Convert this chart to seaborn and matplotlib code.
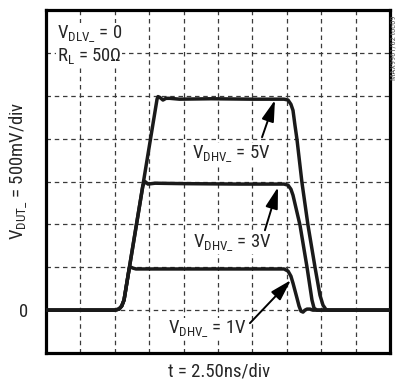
import matplotlib
matplotlib.use("Agg")
import matplotlib.pyplot as plt
from matplotlib import font_manager
import seaborn as sns
import pandas as pd

# Output waveforms for three high-level drive voltages (t in ns, V_DUT in volts)
t_5v = [0, 5.0, 5.3, 5.5, 5.67, 8.07, 8.14, 8.28, 8.5, 8.72, 9.0, 9.7, 12.0, 15.0,
        17.3, 17.59, 17.8, 17.95, 18.09, 18.24, 18.6, 19.04, 19.55, 19.91, 20.13,
        20.35, 20.57, 25.0]
v_5v = [0, 0, 0.012, 0.047, 0.117, 2.46, 2.49, 2.48, 2.45, 2.47, 2.47, 2.46, 2.465,
        2.46, 2.46, 2.45, 2.40, 2.33, 2.16, 1.99, 1.49, 0.99, 0.50, 0.175, 0.058,
        0.006, 0, 0]

t_3v = [0, 5.0, 5.3, 5.5, 5.67, 7.04, 7.19, 7.41, 7.92, 10.0, 14.0, 17.3, 17.59,
        17.8, 17.95, 18.46, 18.97, 19.33, 19.48, 19.69, 25.0]
v_3v = [0, 0, 0.012, 0.047, 0.117, 1.45, 1.50, 1.47, 1.48, 1.475, 1.47, 1.47,
        1.457, 1.41, 1.34, 0.99, 0.50, 0.117, 0.023, 0, 0]

t_1v = [0, 5.0, 5.3, 5.5, 5.67, 6.05, 6.18, 6.32, 6.54, 10.0, 14.0, 17.3, 17.59,
        17.8, 17.95, 18.24, 18.39, 18.53, 18.68, 18.82, 18.97, 19.18, 19.4, 25.0]
v_1v = [0, 0, 0.012, 0.047, 0.117, 0.49, 0.50, 0.49, 0.48, 0.48, 0.48, 0.48,
        0.455, 0.396, 0.315, 0.14, 0.047, -0.012, -0.023, 0, 0.012, 0.012, 0, 0]

traces = {"5V": (t_5v, v_5v), "3V": (t_3v, v_3v), "1V": (t_1v, v_1v)}

x_ticks = [i * 2.5 for i in range(11)]
y_ticks = [-0.5 + i * 0.5 for i in range(9)]
y_ticklabels = ["0" if abs(v) < 1e-9 else "" for v in y_ticks]

sns.set_style("white")

font = "DejaVu Sans"
for cand in ["Liberation Sans Narrow", "Roboto Condensed", "Liberation Sans"]:
    try:
        font_manager.findfont(cand, fallback_to_default=False)
        font = cand
        break
    except Exception:
        pass
plt.rcParams["font.family"] = [font, "DejaVu Sans"]
plt.rcParams["mathtext.fontset"] = "custom"
plt.rcParams["mathtext.rm"] = font
plt.rcParams["mathtext.it"] = font
plt.rcParams["mathtext.default"] = "rm"

FS = 13.5
TXT = "#262626"

fig = plt.figure(figsize=(3.98, 3.86), dpi=100)
ax = fig.add_axes([46 / 398, 1 - 353 / 386, 344 / 398, 343 / 386])

for name, (t, v) in traces.items():
    df = pd.DataFrame({"t": t, "v": v})
    sns.lineplot(data=df, x="t", y="v", ax=ax, sort=False, estimator=None,
                 color="#1a1a1a", linewidth=2.5, solid_joinstyle="round",
                 solid_capstyle="round", zorder=3)

ax.set_xlim(0, 25)
ax.set_ylim(-0.5, 3.5)
ax.set_xticks(x_ticks)
ax.set_xticklabels([""] * len(x_ticks))
ax.set_yticks(y_ticks)
ax.set_yticklabels(y_ticklabels, fontsize=FS, color=TXT)
ax.tick_params(length=0, pad=13)
ax.set_xlabel("")
ax.set_ylabel("")
ax.grid(True, color="#3a3a3a", linewidth=0.9, linestyle=(0, (3.6, 3.0)))
for s in ax.spines.values():
    s.set_linewidth(2.3)
    s.set_color("black")

box = dict(facecolor="white", edgecolor="none", pad=0.5)
ax.text(0.80, 3.17, r"V$_{\mathrm{DLV\_}}$ = 0", fontsize=FS, color=TXT,
        ha="left", va="baseline", bbox=box, zorder=4)
ax.text(0.80, 2.91, r"R$_{\mathrm{L}}$ = 50Ω", fontsize=FS, color=TXT,
        ha="left", va="baseline", bbox=box, zorder=4)
ax.text(10.61, 1.77, r"V$_{\mathrm{DHV\_}}$ = 5V", fontsize=FS, color=TXT,
        ha="left", va="baseline", bbox=box, zorder=4)
ax.text(10.68, 0.734, r"V$_{\mathrm{DHV\_}}$ = 3V", fontsize=FS, color=TXT,
        ha="left", va="baseline", bbox=box, zorder=4)
ax.text(8.87, -0.268, r"V$_{\mathrm{DHV\_}}$ = 1V", fontsize=FS, color=TXT,
        ha="left", va="baseline", bbox=box, zorder=4)

arrow = dict(arrowstyle="-|>,head_length=1.3,head_width=0.38", color="black",
             lw=1.4, shrinkA=0, shrinkB=0)
ax.annotate("", xy=(16.64, 2.45), xytext=(15.70, 2.016), arrowprops=arrow, zorder=5)
ax.annotate("", xy=(16.86, 1.434), xytext=(15.91, 0.932), arrowprops=arrow, zorder=5)
ax.annotate("", xy=(17.80, 0.35), xytext=(14.82, -0.152), arrowprops=arrow, zorder=5)

fig.text(18 / 398, 1 - 171 / 386, r"V$_{\mathrm{DUT\_}}$ = 500mV/div", fontsize=FS,
         color=TXT, rotation=90, ha="center", va="center")
fig.text(219 / 398, 1 - 372 / 386, "t = 2.50ns/div", fontsize=FS, color=TXT,
         ha="center", va="center")
fig.text(394 / 398, 1 - 48 / 386, "MAX9961/62 toc09", fontsize=6, color="#555555",
         rotation=90, ha="center", va="center")

fig.savefig("out.png", dpi=100)
